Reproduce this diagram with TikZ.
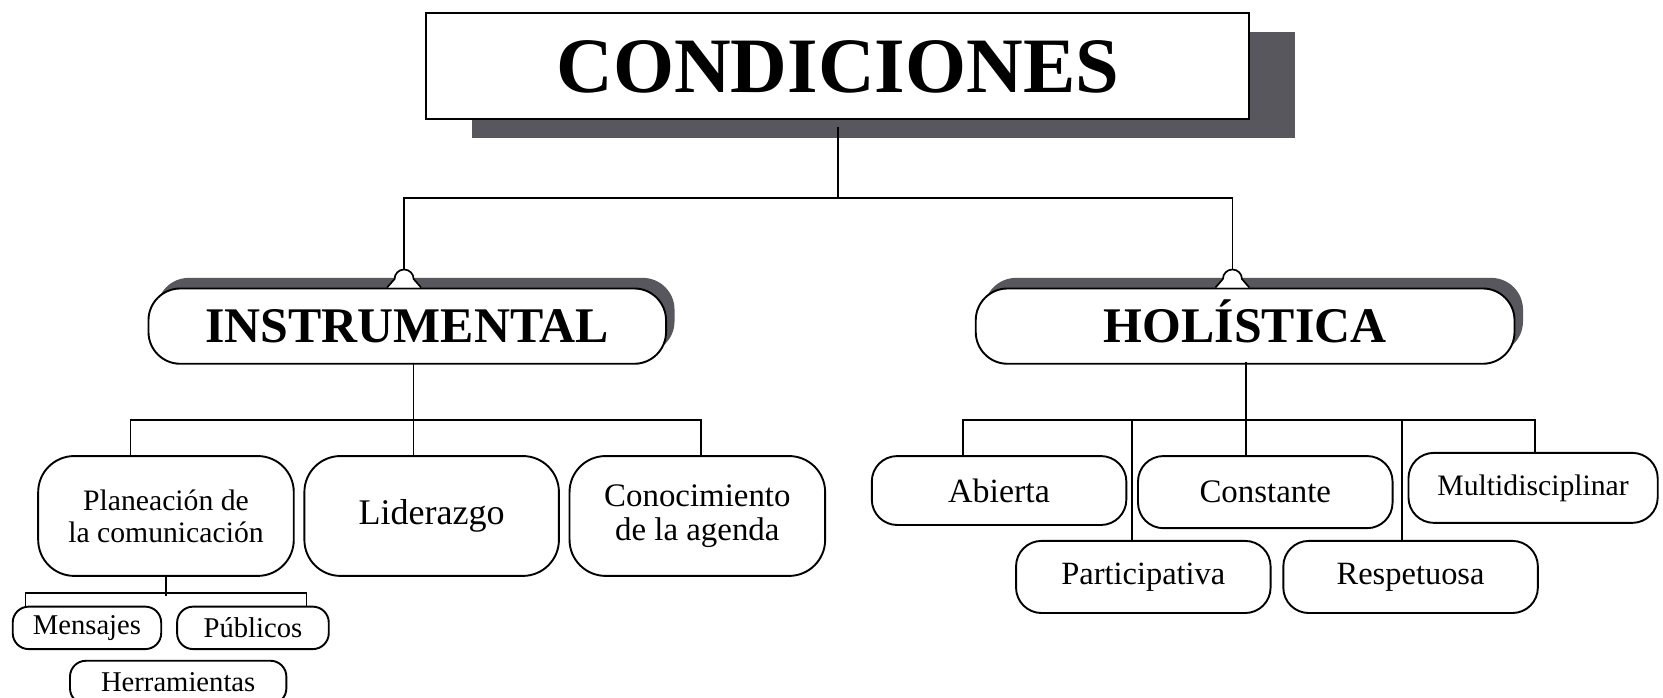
\documentclass[tikz,border=0pt]{standalone}
\usepackage{fontspec}
\setmainfont{Liberation Serif}
\usetikzlibrary{shadows}
\definecolor{shgray}{RGB}{88,87,93}
\tikzset{
  rbox/.style={draw, line width=0.9pt, fill=white, inner sep=0pt, align=center, rounded corners=#1},
  rbox/.default=12pt,
  conn/.style={line width=0.8pt, line cap=rect},
  arch/.pic={\draw[line width=0.8pt, fill=white] (-16,0) -- (-9,-8) arc[start angle=180, end angle=0, radius=4.5pt] -- (16,0);}
}
\begin{document}
\begin{tikzpicture}[x=0.5pt, y=-0.5pt]
\useasboundingbox (0,0) rectangle (1568,658);
\clip (0,0) rectangle (1568,658);
\fill[white] (0,0) rectangle (1568,658);

% top
\node[draw, line width=0.9pt, fill=white, inner sep=0pt, minimum width=388pt, minimum height=50pt,
      text height=25pt, text depth=0pt,
      drop shadow={shadow xshift=21.5pt, shadow yshift=-9pt, fill=shgray, opacity=1},
      font=\fontsize{37}{40}\selectfont\bfseries] (cond) at (790,62) {CONDICIONES};

% level 1
\node[rbox=15pt, minimum width=244pt, minimum height=35.5pt, text height=15.6pt, text depth=0pt,
      drop shadow={shadow xshift=4pt, shadow yshift=5pt, fill=shgray, opacity=1},
      font=\fontsize{23.5}{25}\selectfont\bfseries] (ins) at (384,307.5) {INSTRUMENTAL};
\node[rbox=15pt, minimum width=254pt, minimum height=35.5pt, text height=15.6pt, text depth=0pt,
      drop shadow={shadow xshift=4pt, shadow yshift=5pt, fill=shgray, opacity=1},
      font=\fontsize{23.5}{25}\selectfont\bfseries] (hol) at (1174,307.5) {HOLÍSTICA};

% instrumental children
\node[rbox=17pt, minimum width=120.5pt, minimum height=56.5pt, font=\fontsize{14}{15}\selectfont] (plan) at (156.5,486.5) {Planeación de\\la comunicación};
\node[rbox=17pt, minimum width=120pt, minimum height=56.5pt, font=\fontsize{17}{18}\selectfont] (lid) at (407,486.5) {Liderazgo};
\node[rbox=17pt, minimum width=120.5pt, minimum height=56.5pt, font=\fontsize{15.5}{16}\selectfont] (con) at (657.5,486.5) {Conocimiento\\de la agenda};

\node[rbox=7.5pt, minimum width=70pt, minimum height=20pt, font=\fontsize{13.5}{14}\selectfont] (men) at (82,592) {Mensajes};
\node[rbox=7.5pt, minimum width=71.5pt, minimum height=20pt, font=\fontsize{13.5}{14}\selectfont] (pub) at (238.5,592) {Públicos};
\node[rbox=7.5pt, minimum width=102pt, minimum height=20.5pt, font=\fontsize{13.5}{14}\selectfont] (her) at (168,643.5) {Herramientas};

% holistica children
\node[rbox=12pt, minimum width=120pt, minimum height=32.5pt, font=\fontsize{16}{17}\selectfont] (abi) at (942,462.5) {Abierta};
\node[rbox=12pt, minimum width=120pt, minimum height=34pt, font=\fontsize{15.5}{16}\selectfont] (cst) at (1193,464) {Constante};
\node[rbox=12pt, minimum width=117.5pt, minimum height=33pt, font=\fontsize{14}{15}\selectfont] (mul) at (1445.5,460) {Multidisciplinar};
\node[rbox=12pt, minimum width=120pt, minimum height=34pt, font=\fontsize{15.3}{16}\selectfont] (par) at (1078,544) {Participativa};
\node[rbox=12pt, minimum width=120pt, minimum height=34pt, font=\fontsize{15.3}{16}\selectfont] (res) at (1330,544) {Respetuosa};

% connectors top
\draw[conn] ([yshift=-4pt]cond.south) -- ++(0,66) coordinate (t0);
\path ([xshift=-1.5pt]ins.north) coordinate (ia) ([xshift=-6pt]hol.north) coordinate (ha);
\pic at (ia) {arch};
\pic at (ha) {arch};
\draw[conn] ([yshift=8.5pt]ia) |- (t0) -| ([yshift=8.5pt]ha);

% instrumental
\draw[conn] ([xshift=3pt]ins.south) -- ++(0,54);
\draw[conn] ([xshift=-16.75pt]plan.north) -- ++(0,-33) -| ([xshift=1.75pt]con.north);
\draw[conn] ([xshift=-8.5pt]lid.north) -- ++(0,-33);

% planeacion
\draw[conn] (plan.south) -- ++(0,17);
\draw[conn] ([xshift=-29pt]men.north) -- ++(0,-12) -| ([xshift=25.25pt]pub.north);

% holistica
\draw[conn] ([xshift=-9pt]cst.north) -- ++(0,-87);
\draw[conn] ([xshift=-17pt]abi.north) -- ++(0,-33) -| ([xshift=0.75pt]mul.north);
\draw[conn] ([xshift=-5.5pt]par.north) -- ++(0,-113);
\draw[conn] ([xshift=-4pt]res.north) -- ++(0,-113);
\end{tikzpicture}
\end{document}
